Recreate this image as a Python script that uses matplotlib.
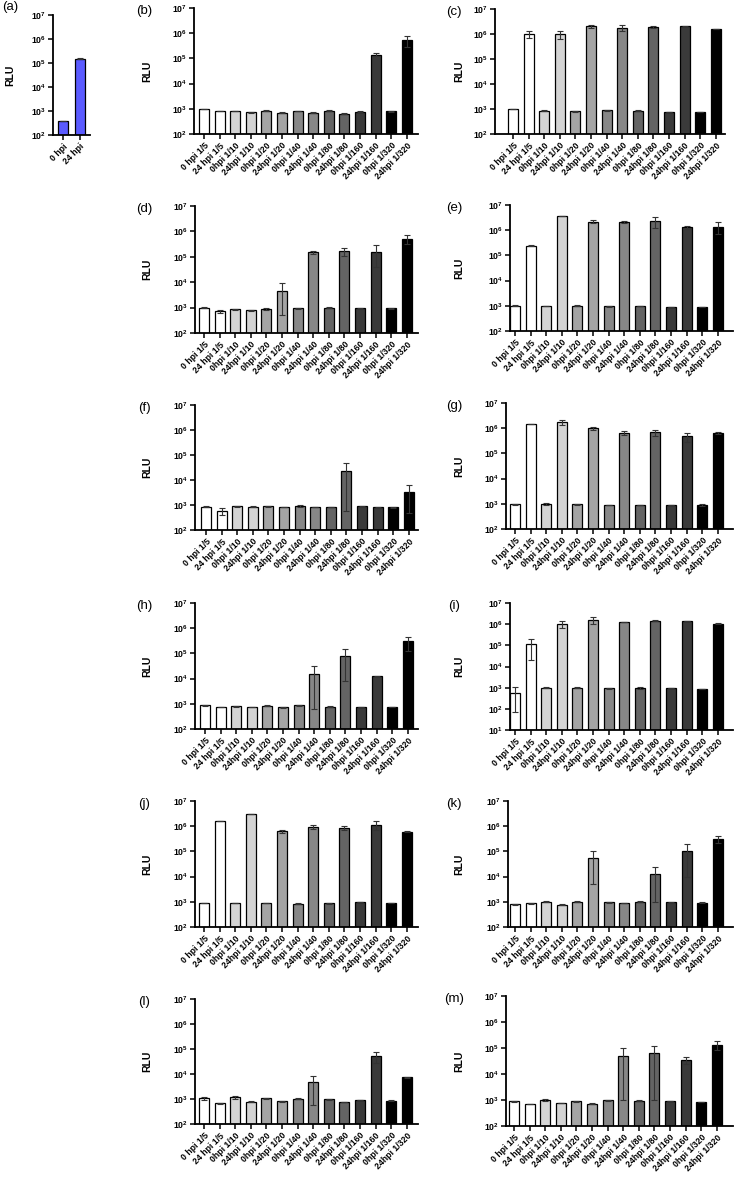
import numpy as np
import matplotlib
matplotlib.use('Agg')
import matplotlib.pyplot as plt
from matplotlib.ticker import FixedLocator, NullLocator

plt.rcParams['font.family'] = ['Liberation Sans', 'DejaVu Sans']
plt.rcParams['mathtext.fontset'] = 'custom'
plt.rcParams['mathtext.rm'] = 'Liberation Sans:bold'
plt.rcParams['mathtext.bf'] = 'Liberation Sans:bold'

# ---- data ----
a_labels = ['0 hpi', '24 hpi']
a_vals = [380, 1.5e5]
a_err = [10, 5e3]

labels = ['0 hpi 1/5', '24 hpi 1/5', '0hpi 1/10', '24hpi 1/10', '0hpi 1/20', '24hpi 1/20',
          '0hpi 1/40', '24hpi 1/40', '0hpi 1/80', '24hpi 1/80', '0hpi 1/160', '24hpi 1/160',
          '0hpi 1/320', '24hpi 1/320']

b_vals = [980, 830, 810, 730, 830, 700, 830, 700, 830, 650, 780, 1.4e5, 790, 5.4e5]
b_err = [20, 20, 20, 20, 30, 15, 20, 20, 30, 20, 30, 2e4, 15, 2.5e5]

c_vals = [1000, 1.0e6, 860, 9.7e5, 810, 2.0e6, 880, 1.75e6, 860, 1.9e6, 760, 2.0e6, 760, 1.6e6]
c_err = [20, 3e5, 20, 3.2e5, 20, 3e5, 20, 4.5e5, 20, 2e5, 20, 3e4, 10, 3e4]

d_vals = [1000, 716, 860, 785, 885, 4700, 940, 1.48e5, 970, 1.66e5, 940, 1.6e5, 930, 5.1e5]
d_err = [30, 100, 30, 20, 80, 4200, 30, 2e4, 40, 6e4, 30, 1.2e5, 20, 1.8e5]

e_vals = [1000, 2.4e5, 1000, 3.6e6, 1000, 2.2e6, 960, 2.15e6, 960, 2.3e6, 880, 1.28e6, 900, 1.4e6]
e_err = [40, 1e4, 20, 1e5, 30, 2.5e5, 40, 1.5e5, 20, 1.1e6, 10, 2e5, 20, 7e5]

f_vals = [860, 590, 880, 860, 880, 830, 910, 830, 830, 2.36e4, 910, 810, 810, 3300]
f_err = [20, 200, 50, 20, 40, 20, 50, 20, 20, 2.3e4, 40, 20, 30, 2800]

g_vals = [970, 1.48e6, 970, 1.78e6, 970, 1.0e6, 890, 6.5e5, 890, 6.9e5, 890, 4.7e5, 890, 6.3e5]
g_err = [40, 3e4, 100, 4e5, 50, 1.5e5, 20, 1e5, 20, 1.8e5, 30, 1.8e5, 90, 5e4]

h_vals = [860, 760, 810, 740, 830, 715, 860, 1.56e4, 780, 8.1e4, 760, 1.23e4, 760, 2.97e5]
h_err = [60, 20, 30, 20, 30, 15, 30, 1.5e4, 20, 7.3e4, 10, 500, 10, 1.7e5]

i_vals = [580, 1.1e5, 1000, 1.07e6, 1000, 1.66e6, 930, 1.28e6, 930, 1.47e6, 930, 1.42e6, 870, 1.07e6]
i_err = [510, 9e4, 40, 4e5, 60, 6e5, 30, 3e4, 100, 5e4, 10, 2e4, 20, 2e4]

j_vals = [900, 1.6e6, 900, 3.0e6, 900, 6.2e5, 850, 9.5e5, 880, 8.8e5, 1000, 1.15e6, 900, 6.0e5]
j_err = [20, 5e4, 20, 6e4, 20, 8e4, 40, 1.5e5, 30, 1.8e5, 20, 4.5e5, 10, 3e4]

k_vals = [800, 880, 1000, 780, 1000, 5.5e4, 950, 900, 1000, 1.3e4, 950, 1.0e5, 920, 3.2e5]
k_err = [20, 40, 30, 20, 30, 5e4, 20, 20, 30, 1.2e4, 30, 9e4, 30, 1e5]

l_vals = [1060, 670, 1170, 780, 1060, 800, 1030, 4600, 970, 760, 910, 5.3e4, 860, 7400]
l_err = [180, 20, 150, 30, 50, 60, 20, 4000, 30, 20, 30, 2.5e4, 20, 200]

m_vals = [915, 700, 1000, 770, 915, 720, 970, 5.0e4, 940, 6.2e4, 915, 3.5e4, 840, 1.35e5]
m_err = [40, 10, 80, 30, 40, 30, 20, 4.9e4, 30, 6.1e4, 20, 1e4, 10, 5e4]

pair_colors = ['#ffffff', '#d4d4d4', '#a4a4a4', '#878787', '#646464', '#3a3a3a', '#000000']

W, H = 735, 1180
fig = plt.figure(figsize=(W / 100, H / 100), dpi=100)


def px_axes(left, top, right, bottom):
    return fig.add_axes([left / W, 1 - bottom / H, (right - left) / W, (bottom - top) / H])


def draw_panel(ax, vals, errs, names, colors, width, ylo, xlim):
    x = np.arange(len(vals))
    ax.set_yscale('log')
    ax.bar(x, vals, width=width, color=colors, edgecolor='black', linewidth=0.9)
    ax.errorbar(x, vals, yerr=errs, fmt='none', ecolor='#333333', elinewidth=0.8,
                capsize=2.3, capthick=0.8)
    ax.set_ylim(10 ** ylo, 1e7)
    ax.set_xlim(*xlim)
    exps = list(range(ylo, 8))
    ax.yaxis.set_major_locator(FixedLocator([10.0 ** e for e in exps]))
    ax.yaxis.set_minor_locator(NullLocator())
    ax.set_yticklabels([r'$\mathbf{10^{%d}}$' % e for e in exps])
    ax.set_xticks(x)
    ax.set_xticklabels(names, rotation=45, ha='right', rotation_mode='anchor',
                       fontsize=7, fontweight='bold')
    for s in ['top', 'right']:
        ax.spines[s].set_visible(False)
    for s in ['left', 'bottom']:
        ax.spines[s].set_linewidth(1.3)
    ax.tick_params(axis='both', direction='out', length=3.5, width=1.1, labelsize=6.3, pad=1.5)


def label_panel(letter, lx, ly, rx, ry):
    fig.text(lx / W, 1 - ly / H, letter, ha='center', va='center', fontsize=9.5)
    fig.text(rx / W, 1 - ry / H, 'RLU', ha='center', va='center', rotation=90,
             fontsize=7.5, fontweight='bold')


# panel (a)
ax = px_axes(53, 15, 90, 135)
draw_panel(ax, a_vals, a_err, a_labels, '#5b5bff', 0.6, 2, (-0.6, 1.6))
label_panel('(a)', 10, 7, 10, 75)

bar_colors = [c for c in pair_colors for _ in range(2)]
step = 15.6
panels = [
    ('(b)', b_vals, b_err, 194, 204, 418, 8, 134, 2),
    ('(c)', c_vals, c_err, 495, 513, 725, 9, 134, 2),
    ('(d)', d_vals, d_err, 195, 204, 418, 206, 333, 2),
    ('(e)', e_vals, e_err, 510, 515, 733, 205, 331, 2),
    ('(f)', f_vals, f_err, 195, 206, 418, 405, 530, 2),
    ('(g)', g_vals, g_err, 506, 515, 733, 403, 529, 2),
    ('(h)', h_vals, h_err, 195, 205, 418, 603, 729, 2),
    ('(i)', i_vals, i_err, 510, 515, 733, 603, 730, 1),
    ('(j)', j_vals, j_err, 195, 204, 418, 801, 927, 2),
    ('(k)', k_vals, k_err, 508, 515, 733, 801, 927, 2),
    ('(l)', l_vals, l_err, 195, 204, 418, 999, 1124, 2),
    ('(m)', m_vals, m_err, 506, 514, 733, 996, 1126, 2),
]

for letter, vals, errs, spine, first, end, top, bottom, ylo in panels:
    ax = px_axes(spine, top, end, bottom)
    xlim = ((spine - first) / step, (end - first) / step)
    draw_panel(ax, vals, errs, labels, bar_colors, 0.65, ylo, xlim)
    left_col = spine < 300
    label_panel(letter, 144 if left_col else 454, top + 3,
                147 if left_col else 459, (top + bottom) / 2)

fig.savefig('out.png', dpi=100)
